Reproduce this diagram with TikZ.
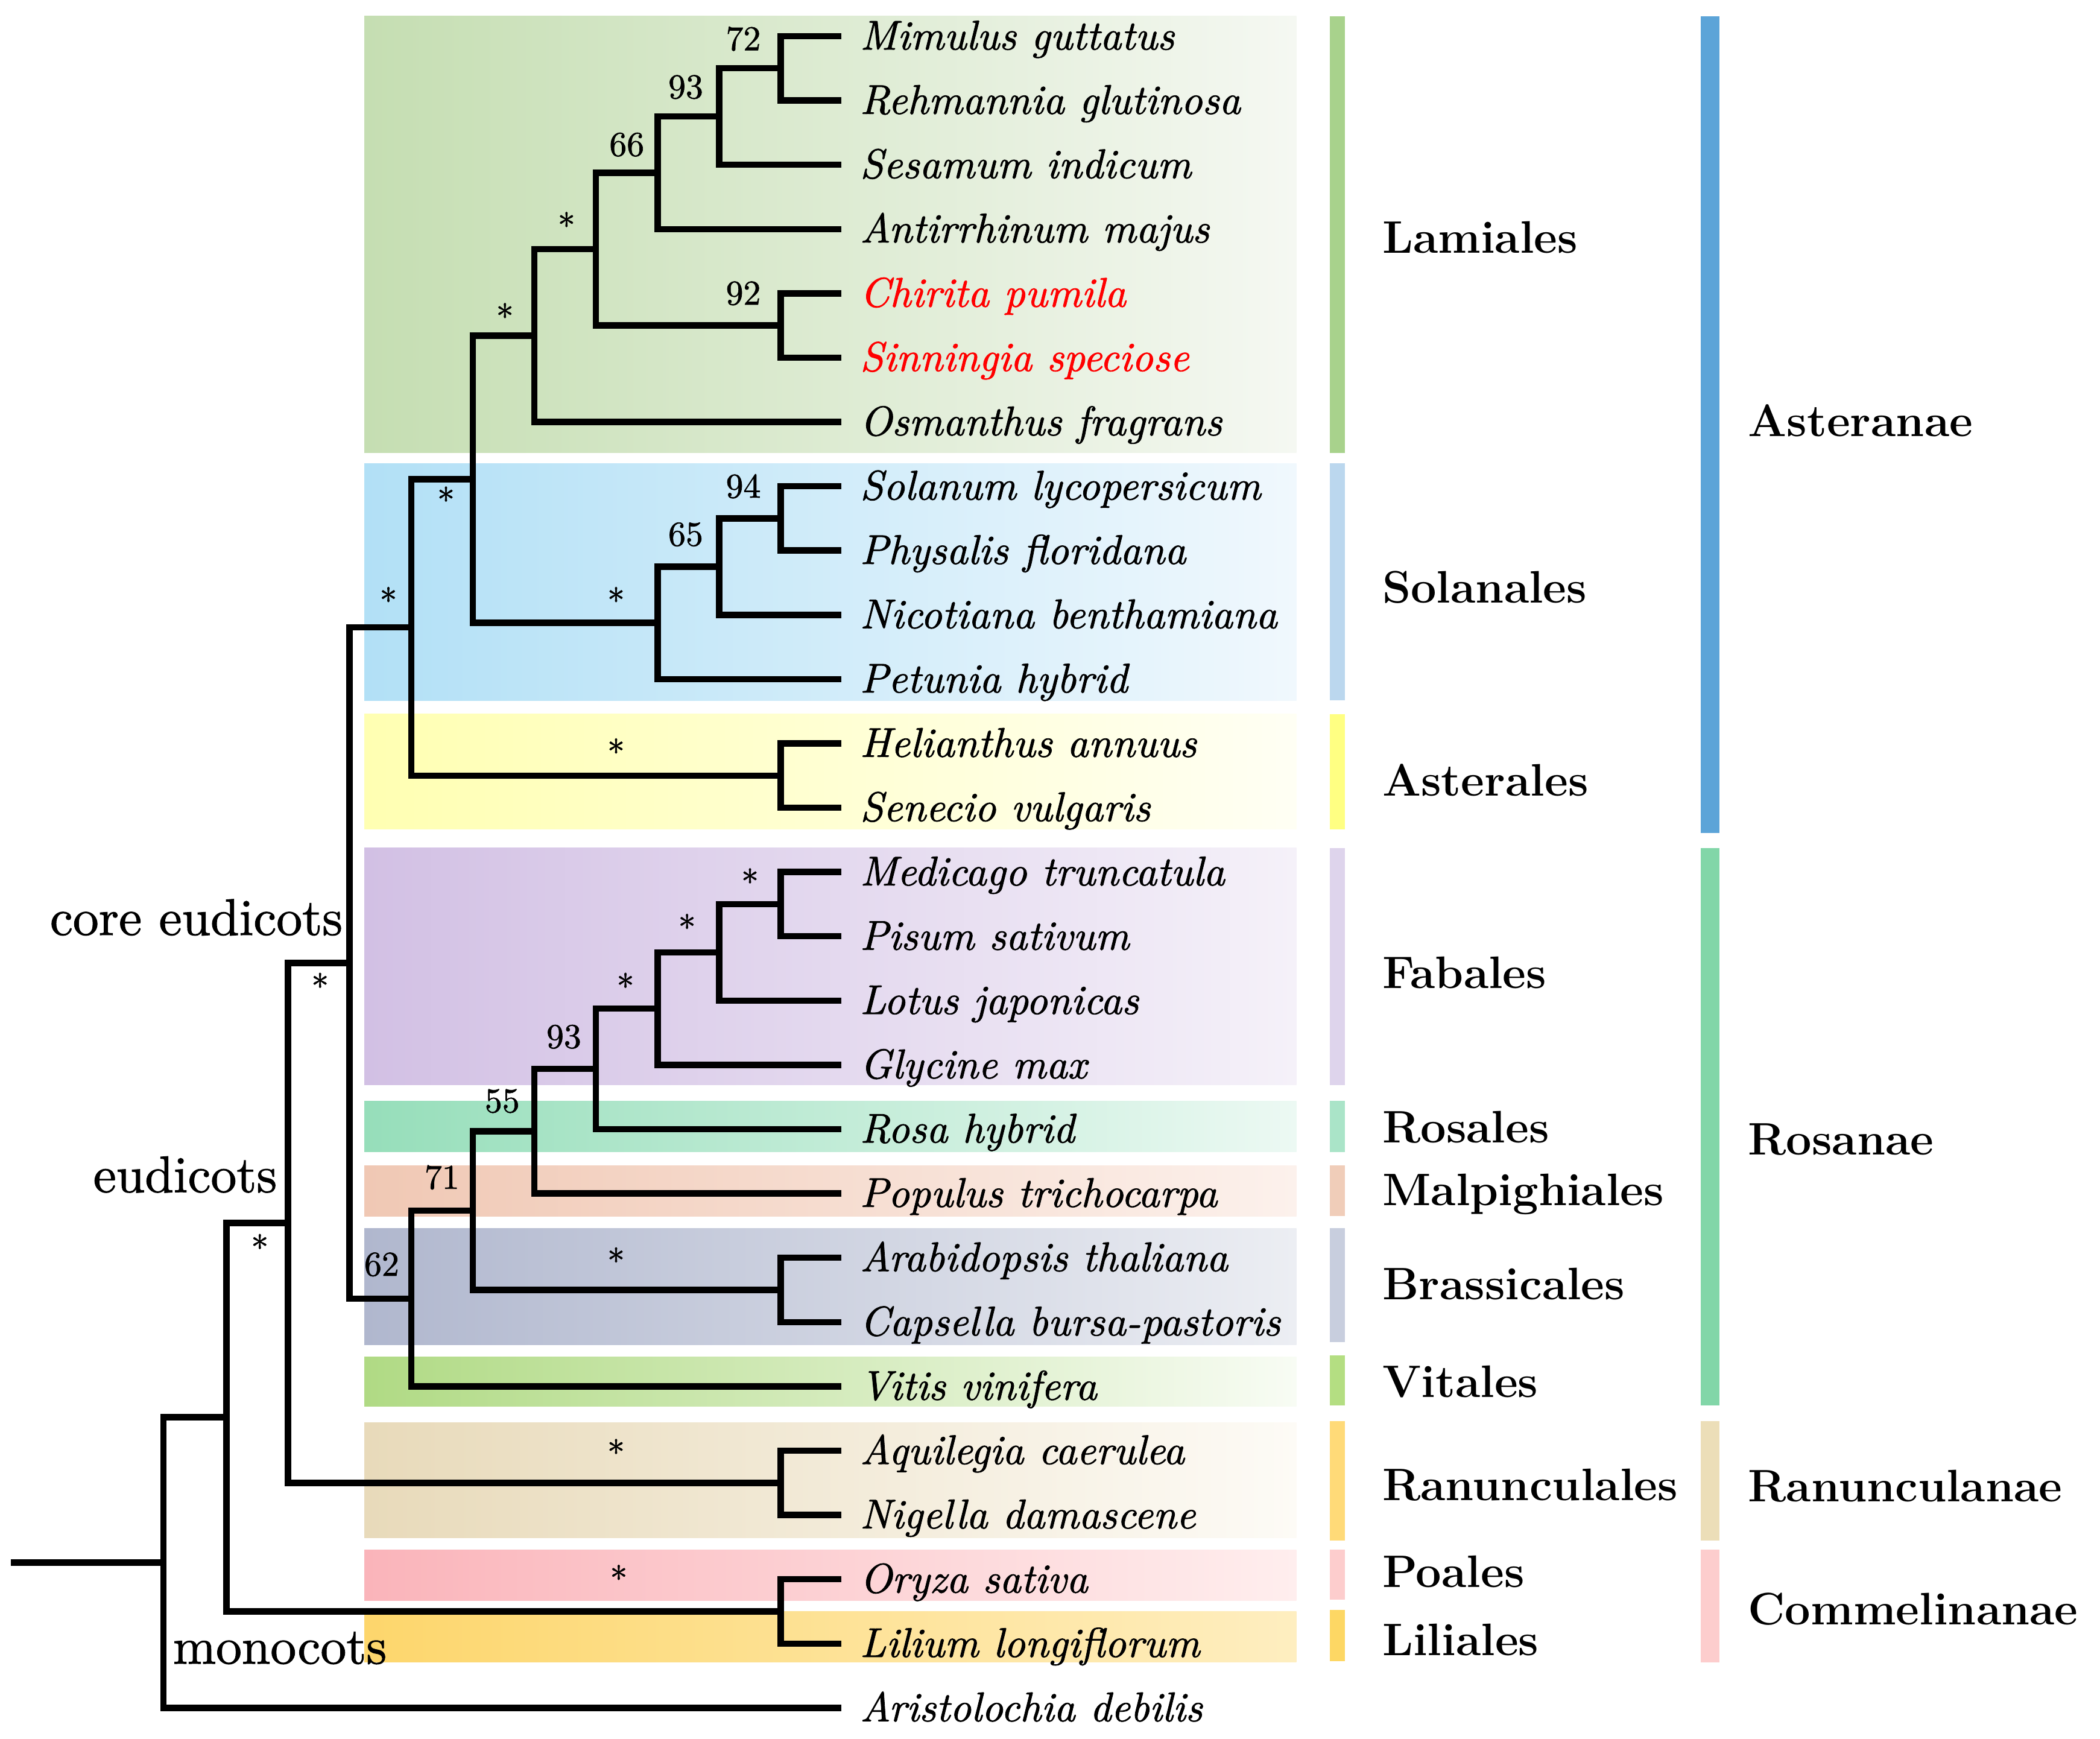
\documentclass[tikz,border=0pt]{standalone}
\usepackage{fontspec}
\newfontfamily\heavyrm{lmroman10-regular.otf}[FakeBold=1.2, ItalicFont=lmroman10-italic.otf, BoldFont=lmroman10-bold.otf]
\definecolor{bgLamL}{RGB}{197,222,178}\definecolor{bgLamR}{RGB}{245,248,242}
\definecolor{bgSolL}{RGB}{178,224,246}\definecolor{bgSolR}{RGB}{240,248,253}
\definecolor{bgAstL}{RGB}{255,255,178}\definecolor{bgAstR}{RGB}{255,255,244}
\definecolor{bgFabL}{RGB}{210,192,228}\definecolor{bgFabR}{RGB}{245,241,249}
\definecolor{bgRosL}{RGB}{150,222,186}\definecolor{bgRosR}{RGB}{236,249,243}
\definecolor{bgMalL}{RGB}{240,200,180}\definecolor{bgMalR}{RGB}{252,241,236}
\definecolor{bgBraL}{RGB}{176,183,206}\definecolor{bgBraR}{RGB}{236,238,243}
\definecolor{bgVitL}{RGB}{176,218,132}\definecolor{bgVitR}{RGB}{248,252,244}
\definecolor{bgRanL}{RGB}{232,218,186}\definecolor{bgRanR}{RGB}{253,251,246}
\definecolor{bgPoaL}{RGB}{250,180,186}\definecolor{bgPoaR}{RGB}{255,238,238}
\definecolor{bgLilL}{RGB}{253,214,108}\definecolor{bgLilR}{RGB}{254,238,192}
\definecolor{oLam}{RGB}{168,210,140}
\definecolor{oSol}{RGB}{187,215,238}
\definecolor{oAst}{RGB}{255,255,130}
\definecolor{oFab}{RGB}{222,212,236}
\definecolor{oRos}{RGB}{170,228,200}
\definecolor{oMal}{RGB}{240,205,185}
\definecolor{oBra}{RGB}{200,206,222}
\definecolor{oVit}{RGB}{180,222,130}
\definecolor{oRan}{RGB}{255,218,120}
\definecolor{oPoa}{RGB}{253,205,205}
\definecolor{oLil}{RGB}{253,215,100}
\definecolor{sAst}{RGB}{92,164,216}
\definecolor{sRos}{RGB}{130,214,168}
\definecolor{sRan}{RGB}{236,222,184}
\definecolor{sCom}{RGB}{253,205,205}
\tikzset{
  br/.style={line width=4.7pt, line join=miter, draw=black},
  sp/.style={anchor=base west, inner sep=0pt, font=\heavyrm\fontsize{31}{37}\selectfont\itshape},
  bs/.style={inner sep=0pt, font=\heavyrm\fontsize{26}{31}\selectfont},
  ordl/.style={anchor=base west, inner sep=0pt, font=\fontsize{34}{40}\selectfont\bfseries},
  cladel/.style={inner sep=0pt, font=\heavyrm\fontsize{38.5}{44}\selectfont},
}
\begin{document}
\begin{tikzpicture}[x=1pt,y=-1pt]
\useasboundingbox (0,0) rectangle (1568,1298);
% background boxes
\shade[left color=bgLamL, right color=bgLamR] (272,12) rectangle (968,338);
\shade[left color=bgSolL, right color=bgSolR] (272,346) rectangle (968,523);
\shade[left color=bgAstL, right color=bgAstR] (272,533) rectangle (968,619);
\shade[left color=bgFabL, right color=bgFabR] (272,633) rectangle (968,810);
\shade[left color=bgRosL, right color=bgRosR] (272,822) rectangle (968,860);
\shade[left color=bgMalL, right color=bgMalR] (272,870) rectangle (968,908);
\shade[left color=bgBraL, right color=bgBraR] (272,917) rectangle (968,1004);
\shade[left color=bgVitL, right color=bgVitR] (272,1013) rectangle (968,1050);
\shade[left color=bgRanL, right color=bgRanR] (272,1062) rectangle (968,1148);
\shade[left color=bgPoaL, right color=bgPoaR] (272,1157) rectangle (968,1195);
\shade[left color=bgLilL, right color=bgLilR] (272,1203) rectangle (968,1241);
% order bars
\fill[oLam] (993,12) rectangle (1004,338);
\fill[oSol] (993,346) rectangle (1004,523);
\fill[oAst] (993,533) rectangle (1004,619);
\fill[oFab] (993,633) rectangle (1004,810);
\fill[oRos] (993,822) rectangle (1004,860);
\fill[oMal] (993,870) rectangle (1004,908);
\fill[oBra] (993,917) rectangle (1004,1002);
\fill[oVit] (993,1012) rectangle (1004,1049);
\fill[oRan] (993,1061) rectangle (1004,1150);
\fill[oPoa] (993,1157) rectangle (1004,1194);
\fill[oLil] (993,1202) rectangle (1004,1240);
% superorder bars
\fill[sAst] (1270,12) rectangle (1284,622);
\fill[sRos] (1270,633) rectangle (1284,1049);
\fill[sRan] (1270,1061) rectangle (1284,1150);
\fill[sCom] (1270,1157) rectangle (1284,1241);
% leaves
\foreach \i/\nm/\col in {1/Mimulus guttatus/black,2/Rehmannia glutinosa/black,3/Sesamum indicum/black,4/Antirrhinum majus/black,5/Chirita pumila/red,6/Sinningia speciose/red,7/Osmanthus fragrans/black,8/Solanum lycopersicum/black,9/Physalis floridana/black,10/Nicotiana benthamiana/black,11/Petunia hybrid/black,12/Helianthus annuus/black,13/Senecio vulgaris/black,14/Medicago truncatula/black,15/Pisum sativum/black,16/Lotus japonicas/black,17/Glycine max/black,18/Rosa hybrid/black,19/Populus trichocarpa/black,20/Arabidopsis thaliana/black,21/Capsella bursa-pastoris/black,22/Vitis vinifera/black,23/Aquilegia caerulea/black,24/Nigella damascene/black,25/Oryza sativa/black,26/Lilium longiflorum/black,27/Aristolochia debilis/black}{
  \pgfmathsetmacro\yy{27+48*(\i-1)}
  \coordinate (L\i) at (628,\yy);
  \node[sp,text=\col] (t\i) at (642,\yy+10) {\nm};
}
% internal nodes
\coordinate (n1) at (583,51);
\coordinate (n2) at (537,87);
\coordinate (n3) at (491,129);
\coordinate (n4) at (583,243);
\coordinate (n5) at (445,186);
\coordinate (n6) at (399,250.5);
\coordinate (n7) at (583,387);
\coordinate (n8) at (537,423);
\coordinate (n9) at (491,465);
\coordinate (n10) at (353,357.75);
\coordinate (n11) at (583,579);
\coordinate (n12) at (307,468.4);
\coordinate (n13) at (583,675);
\coordinate (n14) at (537,711);
\coordinate (n15) at (491,753);
\coordinate (n16) at (445,798);
\coordinate (n17) at (399,844.5);
\coordinate (n18) at (583,963);
\coordinate (n19) at (353,903.75);
\coordinate (n20) at (307,969.4);
\coordinate (n21) at (261,718.9);
\coordinate (n22) at (583,1107);
\coordinate (n23) at (215,913);
\coordinate (n24) at (583,1203);
\coordinate (n25) at (169,1058);
\coordinate (n26) at (122,1166.5);
\coordinate (root) at (8,1166.5);
% branches
\foreach \p/\c in {n1/L1,n1/L2,n2/n1,n2/L3,n3/n2,n3/L4,n4/L5,n4/L6,n5/n3,n5/n4,n6/n5,n6/L7,
  n7/L8,n7/L9,n8/n7,n8/L10,n9/n8,n9/L11,n10/n6,n10/n9,n11/L12,n11/L13,n12/n10,n12/n11,
  n13/L14,n13/L15,n14/n13,n14/L16,n15/n14,n15/L17,n16/n15,n16/L18,n17/n16,n17/L19,
  n18/L20,n18/L21,n19/n17,n19/n18,n20/n19,n20/L22,n21/n12,n21/n20,
  n22/L23,n22/L24,n23/n21,n23/n22,n24/L25,n24/L26,n25/n23,n25/n24,n26/n25,n26/L27}{
  \draw[br] (\p) |- (\c);
}
\draw[br] (root) -- (n26);
% support values
\node[bs] (b1) at (555,29) {72};
\node[bs] (b2) at (512,65) {93};
\node[bs] (b3) at (468,108) {66};
\node[bs] (b4) at (423,168) {*};
\node[bs] (b5) at (377,236) {*};
\node[bs] (b6) at (555,219) {92};
\node[bs] (b7) at (333,373) {*};
\node[bs] (b8) at (290,448) {*};
\node[bs] (b9) at (555,363) {94};
\node[bs] (b10) at (512,399) {65};
\node[bs] (b11) at (460,448) {*};
\node[bs] (b12) at (460,561) {*};
\node[bs] (b13) at (560,658) {*};
\node[bs] (b14) at (513,692) {*};
\node[bs] (b15) at (467,736) {*};
\node[bs] (b16) at (421,774) {93};
\node[bs] (b17) at (375,822) {55};
\node[bs] (b18) at (330,879) {71};
\node[bs] (b19) at (285,944) {62};
\node[bs] (b20) at (460,941) {*};
\node[bs] (b21) at (239,736) {*};
\node[bs] (b22) at (194,931) {*};
\node[bs] (b23) at (460,1084) {*};
\node[bs] (b24) at (462,1178) {*};
% clade labels
\node[cladel, anchor=base east] (ce) at (256,698) {core eudicots};
\node[cladel, anchor=base east] (eu) at (207,890) {eudicots};
\node[cladel, anchor=base west] (mo) at (129,1242) {monocots};
% order labels
\node[ordl] (o1) at (1032,189) {Lamiales};
\node[ordl] (o2) at (1032,450) {Solanales};
\node[ordl] (o3) at (1032,594) {Asterales};
\node[ordl] (o4) at (1032,738) {Fabales};
\node[ordl] (o5) at (1032,853) {Rosales};
\node[ordl] (o6) at (1032,900) {Malpighiales};
\node[ordl] (o7) at (1032,970) {Brassicales};
\node[ordl] (o8) at (1032,1043) {Vitales};
\node[ordl] (o9) at (1032,1120) {Ranunculales};
\node[ordl] (o10) at (1032,1185) {Poales};
\node[ordl] (o11) at (1032,1236) {Liliales};
% superorder labels
\node[ordl] (s1) at (1305,326) {Asteranae};
\node[ordl] (s2) at (1305,862) {Rosanae};
\node[ordl] (s3) at (1305,1121) {Ranunculanae};
\node[ordl] (s4) at (1305,1213) {Commelinanae};
\end{tikzpicture}
\end{document}
